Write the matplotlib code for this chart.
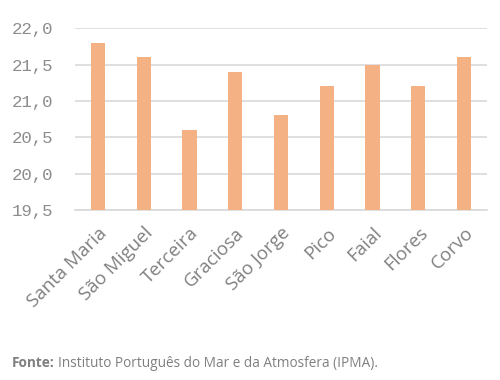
import matplotlib.pyplot as plt
from matplotlib.ticker import FuncFormatter

ilhas = ['Santa Maria', 'São Miguel', 'Terceira', 'Graciosa', 'São Jorge',
         'Pico', 'Faial', 'Flores', 'Corvo']
temperatura = [21.8, 21.6, 20.6, 21.4, 20.8, 21.2, 21.5, 21.2, 21.6]
yticks = [19.5, 20.0, 20.5, 21.0, 21.5, 22.0]

fig = plt.figure(figsize=(5, 3.8), dpi=100)
ax = fig.add_axes([0.15, 0.447, 0.824, 0.479])

ax.bar(range(len(ilhas)), temperatura, width=0.31, color='#F4B183', zorder=3)

ax.set_ylim(19.5, 22.0)
ax.set_xlim(-0.5, len(ilhas) - 0.5)
ax.set_yticks(yticks)
ax.yaxis.set_major_formatter(FuncFormatter(lambda v, p: f'{v:.1f}'.replace('.', ',')))
ax.grid(axis='y', color='#D9D9D9', linewidth=1.2, zorder=0)
ax.tick_params(axis='y', length=0, pad=16, labelsize=12.5, labelcolor='#8C8C8C')
ax.tick_params(axis='x', length=0, pad=10, labelcolor='#808080')
for lab in ax.get_yticklabels():
    lab.set_family('Liberation Mono')

ax.set_xticks(range(len(ilhas)))
ax.set_xticklabels(ilhas, rotation=45, ha='right', rotation_mode='anchor',
                   fontsize=13.5, family='Open Sans')
for s in ['top', 'right', 'left']:
    ax.spines[s].set_visible(False)
ax.spines['bottom'].set_color('#D9D9D9')
ax.spines['bottom'].set_linewidth(1.2)

fig.text(0.024, 0.034, 'Fonte:', fontsize=9.8, fontweight='bold', color='#7F7F7F',
         family='Open Sans')
fig.text(0.115, 0.034, 'Instituto Português do Mar e da Atmosfera (IPMA).', fontsize=9.8,
         color='#7F7F7F', family='Open Sans')

fig.savefig('out.png', dpi=100)
